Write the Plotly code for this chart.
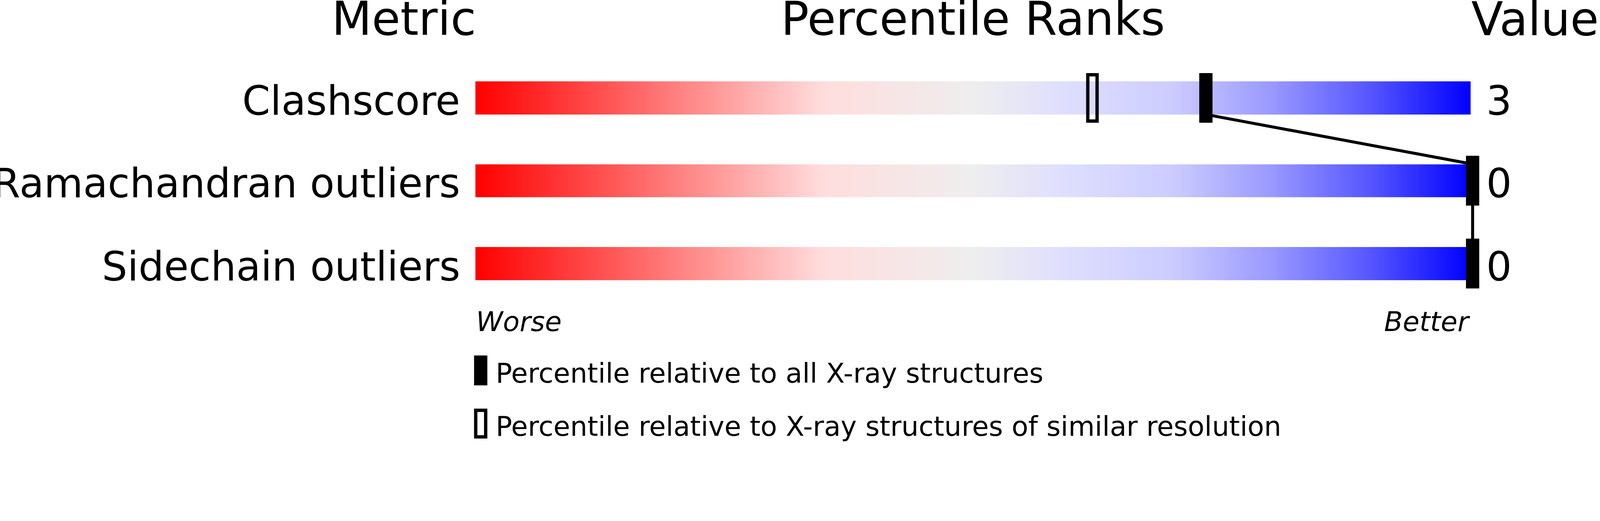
import numpy as np
import plotly.graph_objects as go

# ---- data ----
metrics = ["Clashscore", "Ramachandran outliers", "Sidechain outliers"]
metric_values = ["3", "0", "0"]
pct_all = [73.2, 100, 100]        # percentile relative to all X-ray structures
pct_similar = [61.8, 100, 100]    # percentile relative to similar resolution
legend_labels = ["Percentile relative to all X-ray structures",
                 "Percentile relative to X-ray structures of similar resolution"]

# ---- geometry / style ----
W, H = 4823, 1333
PL, PR = 1433, 4433               # px of percentile 0 and 100
PAD = 3                           # extra percentile units around the bars
UNIT = (PR - PL) / 100.0          # px per percentile unit
PA_L, PA_R = PL - PAD * UNIT, PR + PAD * UNIT
ROW0, ROWSTEP = 295, 249.5        # px centre of first row, row spacing
BAR_HALF = 0.2                    # bar half height (row units)
MRK_HALF = 0.3                    # marker half height (row units)
MRK_DX = 6 / UNIT                 # small marker offset seen in reference
FONT = "DejaVu Sans"

def py(px):
    return 1 - px / H

def pxx(px):
    return (px - PA_L) / (PA_R - PA_L)

rows = list(range(len(metrics)))

gradient = [
    [0.00, "#ff0000"],
    [0.35, "#ffdddd"],
    [0.50, "#eeeeee"],
    [0.60, "#ddddff"],
    [0.70, "#ccccff"],
    [0.80, "#9999ff"],
    [0.90, "#5555ff"],
    [1.00, "#0000ff"],
]

fig = go.Figure()

# gradient bars as one heatmap with transparent gaps
ncol = 300
xedges = np.linspace(0, 100, ncol + 1)
xmid = (xedges[:-1] + xedges[1:]) / 2
yedges = []
zrows = []
for i, r in enumerate(rows):
    yedges += [r - BAR_HALF, r + BAR_HALF]
    zrows.append(list(xmid))
    if i < len(rows) - 1:
        zrows.append([None] * ncol)
fig.add_trace(go.Heatmap(x=xedges, y=yedges, z=zrows, colorscale=gradient,
                         zmin=0, zmax=100, showscale=False, hoverinfo="skip",
                         zsmooth=False))

# connecting line through the "all structures" markers
lx, ly = [], []
for r, p in zip(rows, pct_all):
    lx += [p + MRK_DX, p + MRK_DX]
    ly += [r - BAR_HALF, r + BAR_HALF]
fig.add_trace(go.Scatter(x=lx, y=ly, mode="lines",
                         line=dict(color="black", width=9),
                         hoverinfo="skip", showlegend=False))

shapes = []
# similar-resolution markers (open)
for r, p in zip(rows, pct_similar):
    shapes.append(dict(type="rect", xref="x", yref="y", xsizemode="pixel",
                       xanchor=p + MRK_DX, x0=-14, x1=14,
                       y0=r - MRK_HALF + 0.02, y1=r + MRK_HALF - 0.02,
                       line=dict(color="black", width=10),
                       fillcolor="rgba(0,0,0,0)"))
# all-structures markers (filled)
for r, p in zip(rows, pct_all):
    shapes.append(dict(type="rect", xref="x", yref="y", xsizemode="pixel",
                       xanchor=p + MRK_DX, x0=-20, x1=20,
                       y0=r - MRK_HALF, y1=r + MRK_HALF,
                       line=dict(width=0), fillcolor="black"))

# legend symbols
shapes.append(dict(type="rect", xref="paper", yref="paper",
                   x0=pxx(1429), x1=pxx(1469), y0=py(1161), y1=py(1071),
                   line=dict(width=0), fillcolor="black"))
shapes.append(dict(type="rect", xref="paper", yref="paper",
                   x0=pxx(1434), x1=pxx(1464), y0=py(1316), y1=py(1236),
                   line=dict(color="black", width=10),
                   fillcolor="rgba(0,0,0,0)"))

ann = []
TITLE_FS, LABEL_FS, SMALL_FS = 140, 121, 82

def mid(baseline, fs):
    return baseline - 0.346 * fs

# column titles
ann.append(dict(text="Metric", xref="x", x=0, xanchor="right", xshift=4,
                yref="paper", y=py(mid(105, TITLE_FS)), yanchor="middle",
                showarrow=False, font=dict(size=TITLE_FS, family=FONT, color="black")))
ann.append(dict(text="Percentile Ranks", xref="x", x=50, xanchor="center",
                yref="paper", y=py(mid(105, TITLE_FS)), yanchor="middle",
                showarrow=False, font=dict(size=TITLE_FS, family=FONT, color="black")))
ann.append(dict(text="Value", xref="x", x=100, xanchor="left",
                yref="paper", y=py(mid(106, TITLE_FS)), yanchor="middle",
                showarrow=False, font=dict(size=TITLE_FS, family=FONT, color="black")))

# row labels and values
for r, name, val in zip(rows, metrics, metric_values):
    ann.append(dict(text=name, xref="x", x=0, xanchor="right", xshift=-44,
                    yref="y", y=r, yanchor="middle", yshift=-9,
                    showarrow=False, font=dict(size=LABEL_FS, family=FONT, color="black")))
    ann.append(dict(text=val, xref="x", x=100, xanchor="left", xshift=45,
                    yref="y", y=r, yanchor="middle", yshift=-9,
                    showarrow=False, font=dict(size=LABEL_FS, family=FONT, color="black")))

# worse / better
ann.append(dict(text="<i>Worse</i>", xref="x", x=0, xanchor="left",
                yref="paper", y=py(mid(997, SMALL_FS)), yanchor="middle",
                showarrow=False, font=dict(size=SMALL_FS, family=FONT, color="black")))
ann.append(dict(text="<i>Better</i>", xref="x", x=100, xanchor="right",
                yref="paper", y=py(mid(997, SMALL_FS)), yanchor="middle",
                showarrow=False, font=dict(size=SMALL_FS, family=FONT, color="black")))

# legend text
for lab, base in zip(legend_labels, [1153, 1313]):
    ann.append(dict(text=lab, xref="paper", x=pxx(1492), xanchor="left",
                    yref="paper", y=py(mid(base, SMALL_FS)), yanchor="middle",
                    showarrow=False, font=dict(size=SMALL_FS, family=FONT, color="black")))

fig.update_layout(
    width=W, height=H,
    margin=dict(l=PA_L, r=W - PA_R, t=0, b=0, pad=0),
    paper_bgcolor="white", plot_bgcolor="white",
    xaxis=dict(range=[-PAD, 100 + PAD], visible=False, fixedrange=True),
    yaxis=dict(range=[(H - ROW0) / ROWSTEP, -ROW0 / ROWSTEP],
               visible=False, fixedrange=True),
    shapes=shapes, annotations=ann, showlegend=False,
    font=dict(family=FONT),
)

# fit the fixed-size figure to the browser viewport (handles device scaling)
post = """
document.documentElement.style.overflow = 'hidden';
document.body.style.margin = '0';
document.body.style.overflow = 'hidden';
var gd = document.getElementById('{plot_id}');
var s = window.innerWidth / %d;
gd.style.transformOrigin = '0 0';
gd.style.transform = 'scale(' + s + ')';
var wrap = gd.parentElement;
wrap.style.width = (%d * s) + 'px';
wrap.style.height = (%d * s) + 'px';
wrap.style.overflow = 'hidden';
""" % (W, W, H)

fig.write_html("out.html", config={"displayModeBar": False}, post_script=post)
